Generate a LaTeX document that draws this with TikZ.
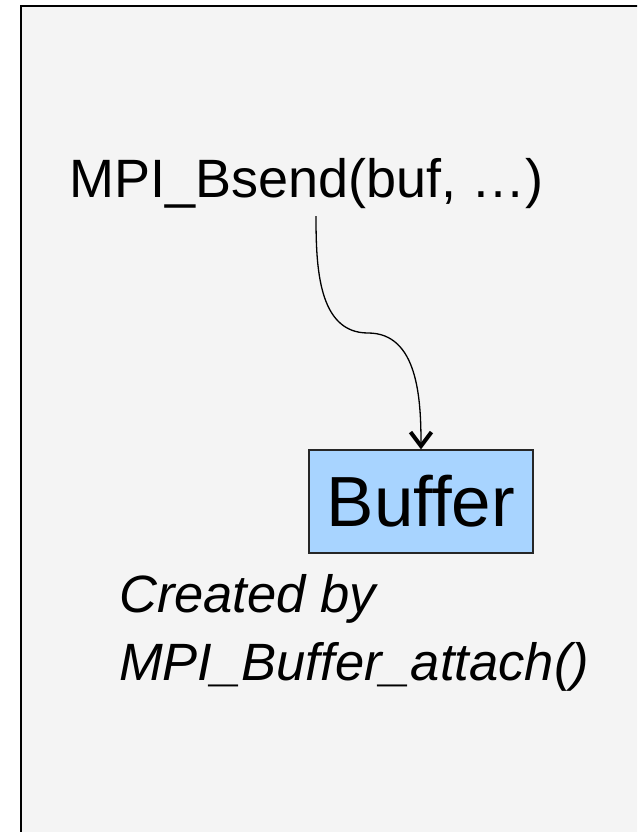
\documentclass[tikz,border=0pt]{standalone}
\usepackage{fontspec}
\setmainfont{Liberation Sans}
\usetikzlibrary{arrows.meta}

\definecolor{panelgray}{HTML}{F4F4F4}
\definecolor{bufblue}{HTML}{A8D4FF}

\begin{document}
\begin{tikzpicture}[x=1pt,y=-1pt]
        \tikzstyle{every node} = [rectangle, inner sep=0pt]
        \tikzstyle{code} = [anchor=base west, font=\fontsize{54}{64}\selectfont]
        \tikzstyle{note} = [anchor=base west, font=\fontsize{52.5}{62}\selectfont\itshape]
        \tikzstyle{bufbox} = [draw=black!85, line width=1.2pt, fill=bufblue,
            minimum width=224pt, minimum height=103pt,
            font=\fontsize{71}{80}\selectfont]
        \clip (0,0) rectangle (637,832);
        \fill[white] (0,0) rectangle (637,832);
        \draw[line width=2.7pt, fill=panelgray] (21,6) rectangle (660,860);
        \node[code] (call) at (69,197) {MPI\_Bsend(buf, …)};
        \node[bufbox] (buf) at (421,501.5) {\raisebox{-3pt}{Buffer}};
        \node[note] (note1) at (119,612) {Created by};
        \node[note] (note2) at (119,680) {MPI\_Buffer\_attach()};
        \coordinate (start) at (316,216);
        \coordinate (bend) at (368,333);
        \draw[line width=1.3pt, -{Straight Barb[length=14pt,width=21pt,line width=4pt]}]
            (start) to[out=-90,in=180] (bend) to[out=0,in=90] (buf.north);
    \end{tikzpicture}
\end{document}
